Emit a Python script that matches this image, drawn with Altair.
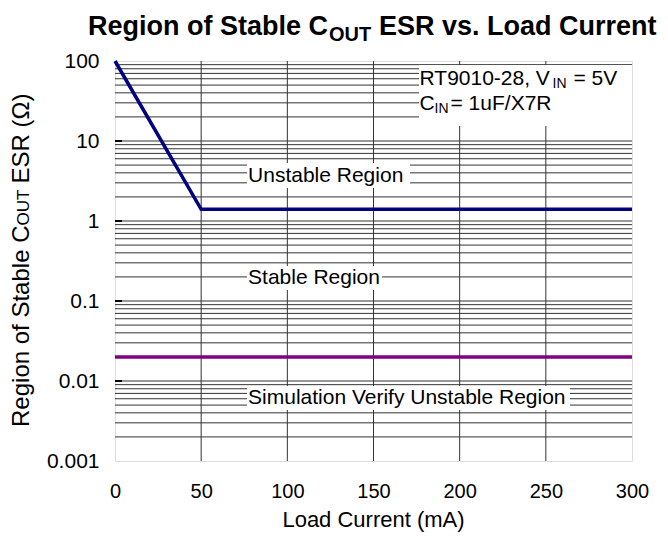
import altair as alt
import pandas as pd

# ---------------- data ----------------
load_ma = [0, 50, 300]
esr_boundary = [100, 1.4, 1.4]
sim_load = [0, 300]
sim_esr = [0.02, 0.02]

x_ticks = [0, 50, 100, 150, 200, 250, 300]
y_ticks = [0.001, 0.01, 0.1, 1, 10, 100]
x_grid = [50, 100, 150, 200, 250]
y_grid = [k * 10.0 ** d for d in range(-3, 2) for k in range(1, 10)][1:]
y_decades = [0.01, 0.1, 1, 10]

region_labels = ["Unstable Region", "Stable Region", "Simulation Verify Unstable Region"]
region_x = [77.2, 77.2, 77.2]
region_y = [3.65, 0.194, 0.00613]

box_x = [76.6, 76.6, 76.6, 176.4]
box_x2 = [171.2, 154.9, 264.0, 300]
box_y = [5.31, 0.274, 0.00866, 89.1]
box_y2 = [2.585, 0.1373, 0.00434, 15.4]

cond_x = [176.7, 176.7]
cond_y = [50.0, 24.5]

FONT = "Liberation Sans"
W, H = 517, 400
GRID = "#333333"

xs = alt.Scale(domain=[0, 300], nice=False, zero=False)
ys = alt.Scale(type="log", domain=[0.001, 100], nice=False)
x_axis = alt.Axis(values=x_ticks, grid=False, ticks=False, domain=False, tickSize=0,
                  labelFontSize=20, labelColor="black", labelPadding=20, title=None,
                  labelFlush=False, labelFont=FONT)
y_axis = alt.Axis(values=y_ticks, format="~g", grid=False, ticks=False, domain=False, tickSize=0,
                  labelFontSize=21, labelColor="black", labelPadding=16, title=None,
                  labelFont=FONT)

X = lambda f="x": alt.X(f"{f}:Q", scale=xs, axis=x_axis)
Y = lambda f="y": alt.Y(f"{f}:Q", scale=ys, axis=y_axis)

grid_v = alt.Chart(pd.DataFrame({"x": x_grid})).mark_rule(color=GRID, strokeWidth=1).encode(x=X())
grid_h = alt.Chart(pd.DataFrame({"y": y_grid})).mark_rule(color=GRID, strokeWidth=1).encode(y=Y())
dec_ticks = alt.Chart(pd.DataFrame({"y": y_decades})).mark_rule(color="black", strokeWidth=2).encode(
    y=Y(), x=alt.value(0), x2=alt.value(7))

boxes = alt.Chart(pd.DataFrame({"x": box_x, "x2": box_x2, "y": box_y, "y2": box_y2})).mark_rect(
    color="white").encode(x=X(), x2="x2:Q", y=Y(), y2="y2:Q")

boundary = alt.Chart(pd.DataFrame({"x": load_ma, "y": esr_boundary})).mark_line(
    color="#000080", strokeWidth=3.5).encode(x=X(), y=Y())
sim = alt.Chart(pd.DataFrame({"x": sim_load, "y": sim_esr})).mark_line(
    color="#800080", strokeWidth=3.5).encode(x=X(), y=Y())

regions = alt.Chart(pd.DataFrame({"x": region_x, "y": region_y, "t": region_labels})).mark_text(
    align="left", baseline="middle", fontSize=21, font=FONT, color="black").encode(
    x=X(), y=Y(), text="t:N")


def cond_piece(row, text, dx, size, dy=0):
    df = pd.DataFrame({"x": [cond_x[row]], "y": [cond_y[row]]})
    return alt.Chart(df).mark_text(text=text, align="left", baseline="alphabetic", fontSize=size,
                                   font=FONT, color="black", dx=dx, dy=dy).encode(x=X(), y=Y())


cond = [
    cond_piece(0, "RT9010-28, V", 0, 21),
    cond_piece(0, "IN", 133, 14, 3),
    cond_piece(0, "= 5V", 154, 21),
    cond_piece(1, "C", 0, 21),
    cond_piece(1, "IN", 15, 14, 3),
    cond_piece(1, "= 1uF/X7R", 31, 21),
]


def ptext(text, x, y, size, align="left", baseline="alphabetic", bold=False, angle=0):
    kw = dict(text=text, align=align, baseline=baseline, fontSize=size, font=FONT, color="black",
              fontWeight="bold" if bold else "normal")
    if angle:
        kw["angle"] = angle
    return alt.Chart(pd.DataFrame({"a": [0]})).mark_text(**kw).encode(x=alt.value(x), y=alt.value(y))


titles = [
    ptext("Region of Stable C", 213, -26, 27, align="right", bold=True),
    ptext("OUT", 214, -20, 20, bold=True),
    ptext("ESR vs. Load Current", 264, -26, 27, bold=True),
    ptext("Load Current (mA)", W / 2, 459, 22, align="center", baseline="middle"),
    ptext("Region of Stable C", -86, 164.5, 24, align="right", angle=270),
    ptext("OUT", -86, 164.5, 17, angle=270),
    ptext("ESR (\u03a9)", -86, 122.5, 24, angle=270),
]

chart = alt.layer(grid_v, grid_h, dec_ticks, boxes, boundary, sim, regions, *cond, *titles).properties(
    width=W, height=H,
    autosize=alt.AutoSizeParams(type="none"),
    padding={"left": 107, "top": 53, "right": 28, "bottom": 72},
    background="white",
).configure_view(stroke="black", strokeWidth=1.5).configure(font=FONT)

chart.save("out.html", embed_options={"renderer": "svg", "actions": False})
